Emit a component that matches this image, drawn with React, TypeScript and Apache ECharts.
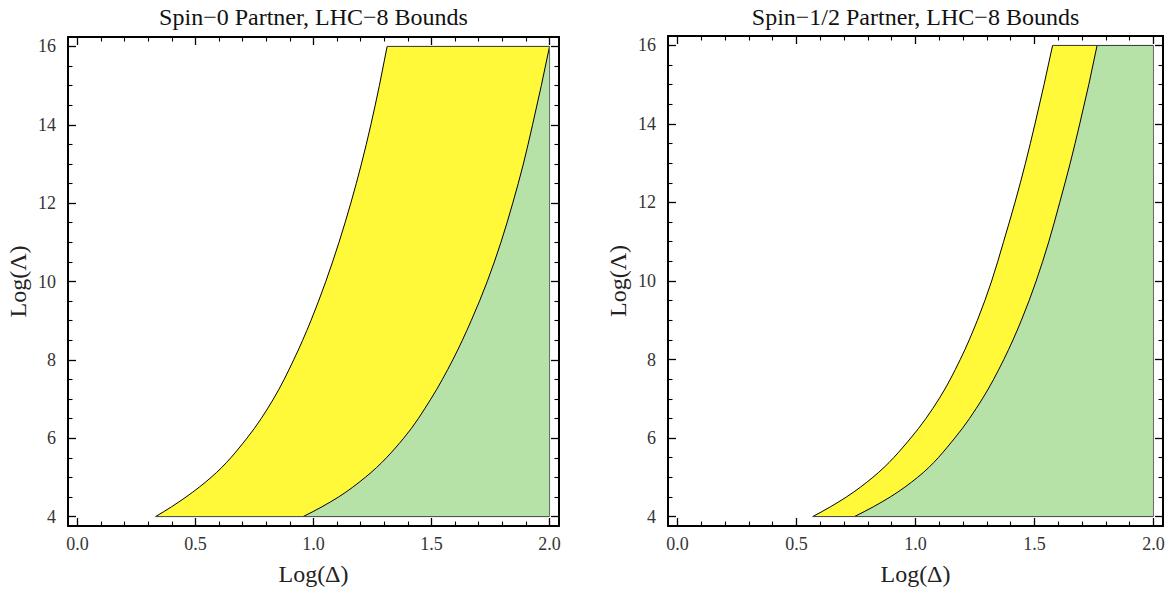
import React, { useEffect, useRef } from "react";
import * as echarts from "echarts";

// Log(Λ) levels at which each boundary curve is sampled
const LOG_LAMBDA = [4, 4.5, 5, 6, 7, 8, 9, 10, 11, 12, 13, 14, 15, 16];

// Spin-0 partner: Log(Δ) of the outer (yellow) and inner (green) boundaries
const SPIN0_OUTER_X = [0.331, 0.46, 0.566, 0.718, 0.83, 0.916, 0.989, 1.052, 1.108, 1.158, 1.203, 1.243, 1.279, 1.312];
const SPIN0_INNER_X = [0.956, 1.106, 1.219, 1.382, 1.497, 1.59, 1.668, 1.736, 1.794, 1.844, 1.889, 1.928, 1.965, 2.0];

// Spin-1/2 partner: Log(Δ) of the outer (yellow) and inner (green) boundaries
const SPINHALF_OUTER_X = [0.568, 0.71, 0.821, 0.98, 1.099, 1.188, 1.26, 1.32, 1.37, 1.418, 1.462, 1.502, 1.54, 1.576];
const SPINHALF_INNER_X = [0.743, 0.894, 1.009, 1.165, 1.281, 1.371, 1.445, 1.507, 1.56, 1.606, 1.65, 1.69, 1.728, 1.763];

const DELTA_MAX = 2;
const LAMBDA_MIN = 4;
const LAMBDA_MAX = 16;

const X_MAJOR = [0, 0.5, 1, 1.5, 2];
const X_MINOR = [0.1, 0.2, 0.3, 0.4, 0.6, 0.7, 0.8, 0.9, 1.1, 1.2, 1.3, 1.4, 1.6, 1.7, 1.8, 1.9];
const Y_MAJOR = [4, 6, 8, 10, 12, 14, 16];
const Y_MINOR = [4.5, 5, 5.5, 6.5, 7, 7.5, 8.5, 9, 9.5, 10.5, 11, 11.5, 12.5, 13, 13.5, 14.5, 15, 15.5];

const TITLES = ["Spin\u22120 Partner, LHC\u22128 Bounds", "Spin\u22121/2 Partner, LHC\u22128 Bounds"];
const X_NAME = "Log(\u0394)";
const Y_NAME = "Log(\u039B)";

const FONT = '"Liberation Serif", "DejaVu Serif", "Times New Roman", serif';
const YELLOW = "#fff93a";
const GREEN = "#b6e2a7";

const GRIDS = [
  { left: 68, top: 37, width: 491, height: 493 },
  { left: 668, top: 36, width: 495, height: 493 },
];

const X_RANGE = [-0.04, 2.04];
const Y_RANGE = [3.76, 16.24];

type Pt = [number, number];

const fmt = (p: number[]) => `${p[0].toFixed(2)} ${p[1].toFixed(2)}`;

// Hermite spline with Log(Δ) as a function of Log(Λ), emitted as cubic Bezier
// commands in pixel space (pen assumed at the first point).
function splineSegments(xs: number[], ys: number[], coord: (p: number[]) => number[]): string {
  const n = xs.length;
  const h: number[] = [];
  const d: number[] = [];
  for (let i = 0; i < n - 1; i++) {
    h.push(ys[i + 1] - ys[i]);
    d.push((xs[i + 1] - xs[i]) / (ys[i + 1] - ys[i]));
  }
  const m: number[] = new Array(n).fill(0);
  for (let i = 1; i < n - 1; i++) {
    m[i] = (h[i - 1] * d[i] + h[i] * d[i - 1]) / (h[i - 1] + h[i]);
  }
  const endSlope = (h0: number, h1: number, d0: number, d1: number) => {
    let s = ((2 * h0 + h1) * d0 - h0 * d1) / (h0 + h1);
    if (Math.sign(s) !== Math.sign(d0)) s = 0;
    else if (Math.abs(s) > 3 * Math.abs(d0)) s = 3 * d0;
    return s;
  };
  m[0] = endSlope(h[0], h[1], d[0], d[1]);
  m[n - 1] = endSlope(h[n - 2], h[n - 3], d[n - 2], d[n - 3]);
  let out = "";
  for (let i = 0; i < n - 1; i++) {
    const t = h[i] / 3;
    const c1 = coord([xs[i] + m[i] * t, ys[i] + t]);
    const c2 = coord([xs[i + 1] - m[i + 1] * t, ys[i + 1] - t]);
    const p2 = coord([xs[i + 1], ys[i + 1]]);
    out += ` C ${fmt(c1)} ${fmt(c2)} ${fmt(p2)}`;
  }
  return out;
}

function xAxes(gridIndex: number) {
  const base = {
    type: "value",
    gridIndex,
    min: X_RANGE[0],
    max: X_RANGE[1],
    splitLine: { show: false },
  };
  const line = { show: true, onZero: false, lineStyle: { color: "#000", width: 2 } };
  const noLine = { show: false, onZero: false };
  const major = { show: true, inside: true, length: 8, customValues: X_MAJOR, lineStyle: { color: "#000", width: 1.3 } };
  const minor = { show: true, inside: true, length: 4.5, customValues: X_MINOR, lineStyle: { color: "#000", width: 1.1 } };
  return [
    {
      ...base,
      position: "bottom",
      axisLine: line,
      axisTick: major,
      axisLabel: {
        show: true,
        customValues: X_MAJOR,
        formatter: (v: number) => v.toFixed(1),
        margin: 9,
        color: "#333",
        fontSize: 18,
        fontFamily: FONT,
      },
      name: X_NAME,
      nameLocation: "middle",
      nameGap: 36,
      nameTextStyle: { color: "#222", fontSize: 24, fontFamily: FONT },
    },
    { ...base, position: "bottom", axisLine: noLine, axisTick: minor, axisLabel: { show: false } },
    { ...base, position: "top", axisLine: line, axisTick: major, axisLabel: { show: false } },
    { ...base, position: "top", axisLine: noLine, axisTick: minor, axisLabel: { show: false } },
  ];
}

function yAxes(gridIndex: number) {
  const base = {
    type: "value",
    gridIndex,
    min: Y_RANGE[0],
    max: Y_RANGE[1],
    splitLine: { show: false },
  };
  const line = { show: true, onZero: false, lineStyle: { color: "#000", width: 2 } };
  const noLine = { show: false, onZero: false };
  const major = { show: true, inside: true, length: 8, customValues: Y_MAJOR, lineStyle: { color: "#000", width: 1.3 } };
  const minor = { show: true, inside: true, length: 4.5, customValues: Y_MINOR, lineStyle: { color: "#000", width: 1.1 } };
  return [
    {
      ...base,
      position: "left",
      axisLine: line,
      axisTick: major,
      axisLabel: {
        show: true,
        customValues: Y_MAJOR,
        formatter: (v: number) => String(v),
        margin: 12,
        color: "#333",
        fontSize: 18,
        fontFamily: FONT,
      },
      name: Y_NAME,
      nameLocation: "middle",
      nameGap: 38,
      nameTextStyle: { color: "#222", fontSize: 24, fontFamily: FONT },
    },
    { ...base, position: "left", axisLine: noLine, axisTick: minor, axisLabel: { show: false } },
    { ...base, position: "right", axisLine: line, axisTick: major, axisLabel: { show: false } },
    { ...base, position: "right", axisLine: noLine, axisTick: minor, axisLabel: { show: false } },
  ];
}

// Filled yellow and green regions plus their curved black boundaries
function regionSeries(axisBase: number, outerX: number[], innerX: number[]) {
  const ys = LOG_LAMBDA;
  const ysRev = ys.slice().reverse();
  const innerRev = innerX.slice().reverse();
  return {
    type: "custom",
    xAxisIndex: axisBase,
    yAxisIndex: axisBase,
    silent: true,
    z: 1,
    data: outerX.map((x, i) => [x, ys[i]]),
    encode: { x: 0, y: 1 },
    renderItem: (params: any, api: any) => {
      if (params.dataIndex !== 0) return null;
      const coord = (p: number[]) => api.coord(p);
      const o0 = coord([outerX[0], ys[0]]);
      const n0 = coord([innerX[0], ys[0]]);
      const nTop = coord([innerX[innerX.length - 1], ys[ys.length - 1]]);
      const tr = coord([DELTA_MAX, LAMBDA_MAX]);
      const br = coord([DELTA_MAX, LAMBDA_MIN]);
      const outerCurve = splineSegments(outerX, ys, coord);
      const innerCurve = splineSegments(innerX, ys, coord);
      const innerCurveRev = splineSegments(innerRev, ysRev, coord);
      const yellowD = `M ${fmt(o0)}${outerCurve} L ${fmt(nTop)}${innerCurveRev} Z`;
      const greenD =
        `M ${fmt(n0)}${innerCurve}` + (nTop[0] < tr[0] - 0.5 ? ` L ${fmt(tr)}` : "") + ` L ${fmt(br)} Z`;
      return {
        type: "group",
        children: [
          { type: "path", shape: { pathData: yellowD }, style: { fill: YELLOW, stroke: "none" } },
          { type: "path", shape: { pathData: greenD }, style: { fill: GREEN, stroke: "none" } },
          { type: "path", z2: 5, shape: { pathData: `M ${fmt(o0)}${outerCurve}` }, style: { fill: "none", stroke: "#000", lineWidth: 1 } },
          { type: "path", z2: 5, shape: { pathData: `M ${fmt(n0)}${innerCurve}` }, style: { fill: "none", stroke: "#000", lineWidth: 1 } },
        ],
      };
    },
  };
}

function edgeSeries(axisBase: number, path: Pt[], color: string) {
  return {
    type: "line",
    xAxisIndex: axisBase,
    yAxisIndex: axisBase,
    silent: true,
    z: 3,
    data: path,
    symbol: "none",
    lineStyle: { color, width: 1 },
  };
}

function panelSeries(gridIndex: number, outerX: number[], innerX: number[]) {
  const axisBase = gridIndex * 4;
  const outerTop: Pt = [outerX[outerX.length - 1], LAMBDA_MAX];
  const outerBottom: Pt = [outerX[0], LAMBDA_MIN];
  const topRight: Pt = [DELTA_MAX, LAMBDA_MAX];
  const bottomRight: Pt = [DELTA_MAX, LAMBDA_MIN];
  return [
    regionSeries(axisBase, outerX, innerX),
    edgeSeries(axisBase, [outerTop, topRight], "#333"),
    edgeSeries(axisBase, [outerBottom, bottomRight], "#444"),
    edgeSeries(axisBase, [bottomRight, topRight], "#666"),
  ];
}

function buildOption() {
  return {
    animation: false,
    backgroundColor: "#fff",
    grid: GRIDS.map((g) => ({ ...g, containLabel: false })),
    xAxis: [...xAxes(0), ...xAxes(1)],
    yAxis: [...yAxes(0), ...yAxes(1)],
    graphic: TITLES.map((text, i) => ({
      type: "text",
      x: GRIDS[i].left + GRIDS[i].width / 2,
      y: 17,
      style: {
        text,
        fill: "#111",
        font: `24px ${FONT}`,
        align: "center",
        verticalAlign: "middle",
        textAlign: "center",
        textVerticalAlign: "middle",
      },
    })),
    series: [
      ...panelSeries(0, SPIN0_OUTER_X, SPIN0_INNER_X),
      ...panelSeries(1, SPINHALF_OUTER_X, SPINHALF_INNER_X),
    ],
  };
}

export default function App() {
  const ref = useRef<HTMLDivElement>(null);
  useEffect(() => {
    if (!ref.current) return;
    const chart = echarts.init(ref.current, null, { renderer: "svg" });
    chart.setOption(buildOption() as any);
    return () => chart.dispose();
  }, []);
  return (
    <div
      ref={ref}
      style={{ position: "fixed", left: 0, top: 0, width: 1168, height: 591, background: "#fff" }}
    />
  );
}
